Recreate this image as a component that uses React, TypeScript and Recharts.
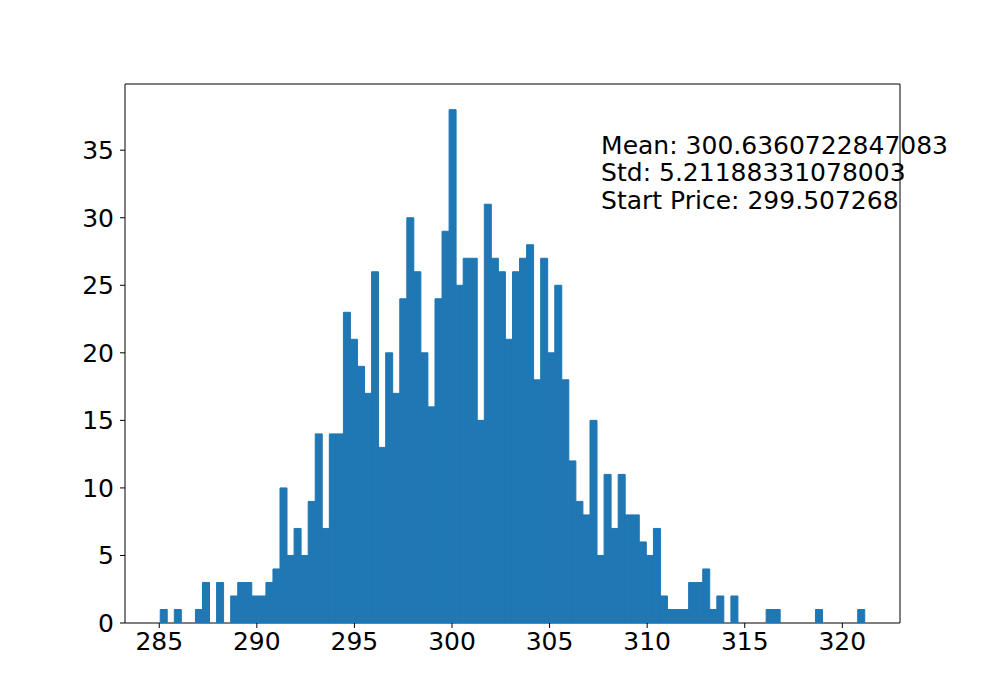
import React from "react";
import {
  ComposedChart,
  Bar,
  XAxis,
  YAxis,
  ReferenceDot,
  ReferenceArea,
} from "recharts";

// histogram bins: 100 equal bins starting at BIN_START
const BIN_START = 285.05;
const BIN_WIDTH = 0.361;

const COUNTS = [
  1, 0, 1, 0, 0, 1, 3, 0, 3, 0,
  2, 3, 3, 2, 2, 3, 4, 10, 5, 7,
  5, 9, 14, 7, 14, 14, 23, 21, 19, 17,
  26, 13, 20, 17, 24, 30, 26, 20, 16, 24,
  29, 38, 25, 27, 27, 15, 31, 27, 26, 21,
  26, 27, 28, 18, 27, 20, 25, 18, 12, 9,
  8, 15, 5, 11, 7, 11, 8, 8, 6, 5,
  7, 2, 1, 1, 1, 3, 3, 4, 1, 2,
  0, 2, 0, 0, 0, 0, 1, 1, 0, 0,
  0, 0, 0, 1, 0, 0, 0, 0, 0, 1,
];

const X_DOMAIN = [283.245, 322.955];
const Y_DOMAIN = [0, 39.9];
const X_TICKS = [285, 290, 295, 300, 305, 310, 315, 320];
const Y_TICKS = [0, 5, 10, 15, 20, 25, 30, 35];

const STATS_LINES = [
  "Mean: 300.6360722847083",
  "Std: 5.21188331078003",
  "Start Price: 299.507268",
];

const data = COUNTS.map((count, i) => ({
  center: BIN_START + BIN_WIDTH * (i + 0.5),
  count,
}));

const FONT = "'DejaVu Sans', sans-serif";
const tickStyle = { fontFamily: FONT, fontSize: 25, fill: "#000" };

const StatsText = (props: any) => {
  const { cx, cy } = props;
  return (
    <text x={cx} y={cy} fontFamily={FONT} fontSize={25} fill="#000">
      {STATS_LINES.map((line, i) => (
        <tspan key={line} x={cx} dy={i === 0 ? 0 : 27.5}>
          {line}
        </tspan>
      ))}
    </text>
  );
};

export default function App() {
  return (
    <div style={{ position: "absolute", left: 0, top: 0, width: 1000, height: 700, background: "#fff" }}>
      <ComposedChart
        width={1000}
        height={700}
        data={data}
        margin={{ top: 84, right: 100, left: 65, bottom: 37 }}
        barCategoryGap={0}
        barGap={0}
      >
        <XAxis
          dataKey="center"
          type="number"
          domain={X_DOMAIN}
          ticks={X_TICKS}
          allowDataOverflow
          height={40}
          tickSize={5}
          tickMargin={4}
          tick={tickStyle}
          stroke="#000"
          tickLine={{ stroke: "#000" }}
          axisLine={false}
        />
        <YAxis
          type="number"
          domain={Y_DOMAIN}
          ticks={Y_TICKS}
          allowDataOverflow
          width={60}
          tickSize={5}
          tickMargin={6}
          tick={tickStyle}
          stroke="#000"
          tickLine={{ stroke: "#000" }}
          axisLine={false}
        />
        <Bar
          dataKey="count"
          fill="#1f77b4"
          stroke="#1f77b4"
          strokeWidth={1}
          isAnimationActive={false}
        />
        {/* axes frame (all four spines) */}
        <ReferenceArea
          x1={X_DOMAIN[0]}
          x2={X_DOMAIN[1]}
          y1={Y_DOMAIN[0]}
          y2={Y_DOMAIN[1]}
          fill="none"
          fillOpacity={0}
          stroke="#000"
          strokeWidth={1}
          strokeOpacity={1}
          ifOverflow="visible"
        />
        <ReferenceDot x={307.64} y={34.72} r={0} shape={StatsText} />
      </ComposedChart>
    </div>
  );
}
